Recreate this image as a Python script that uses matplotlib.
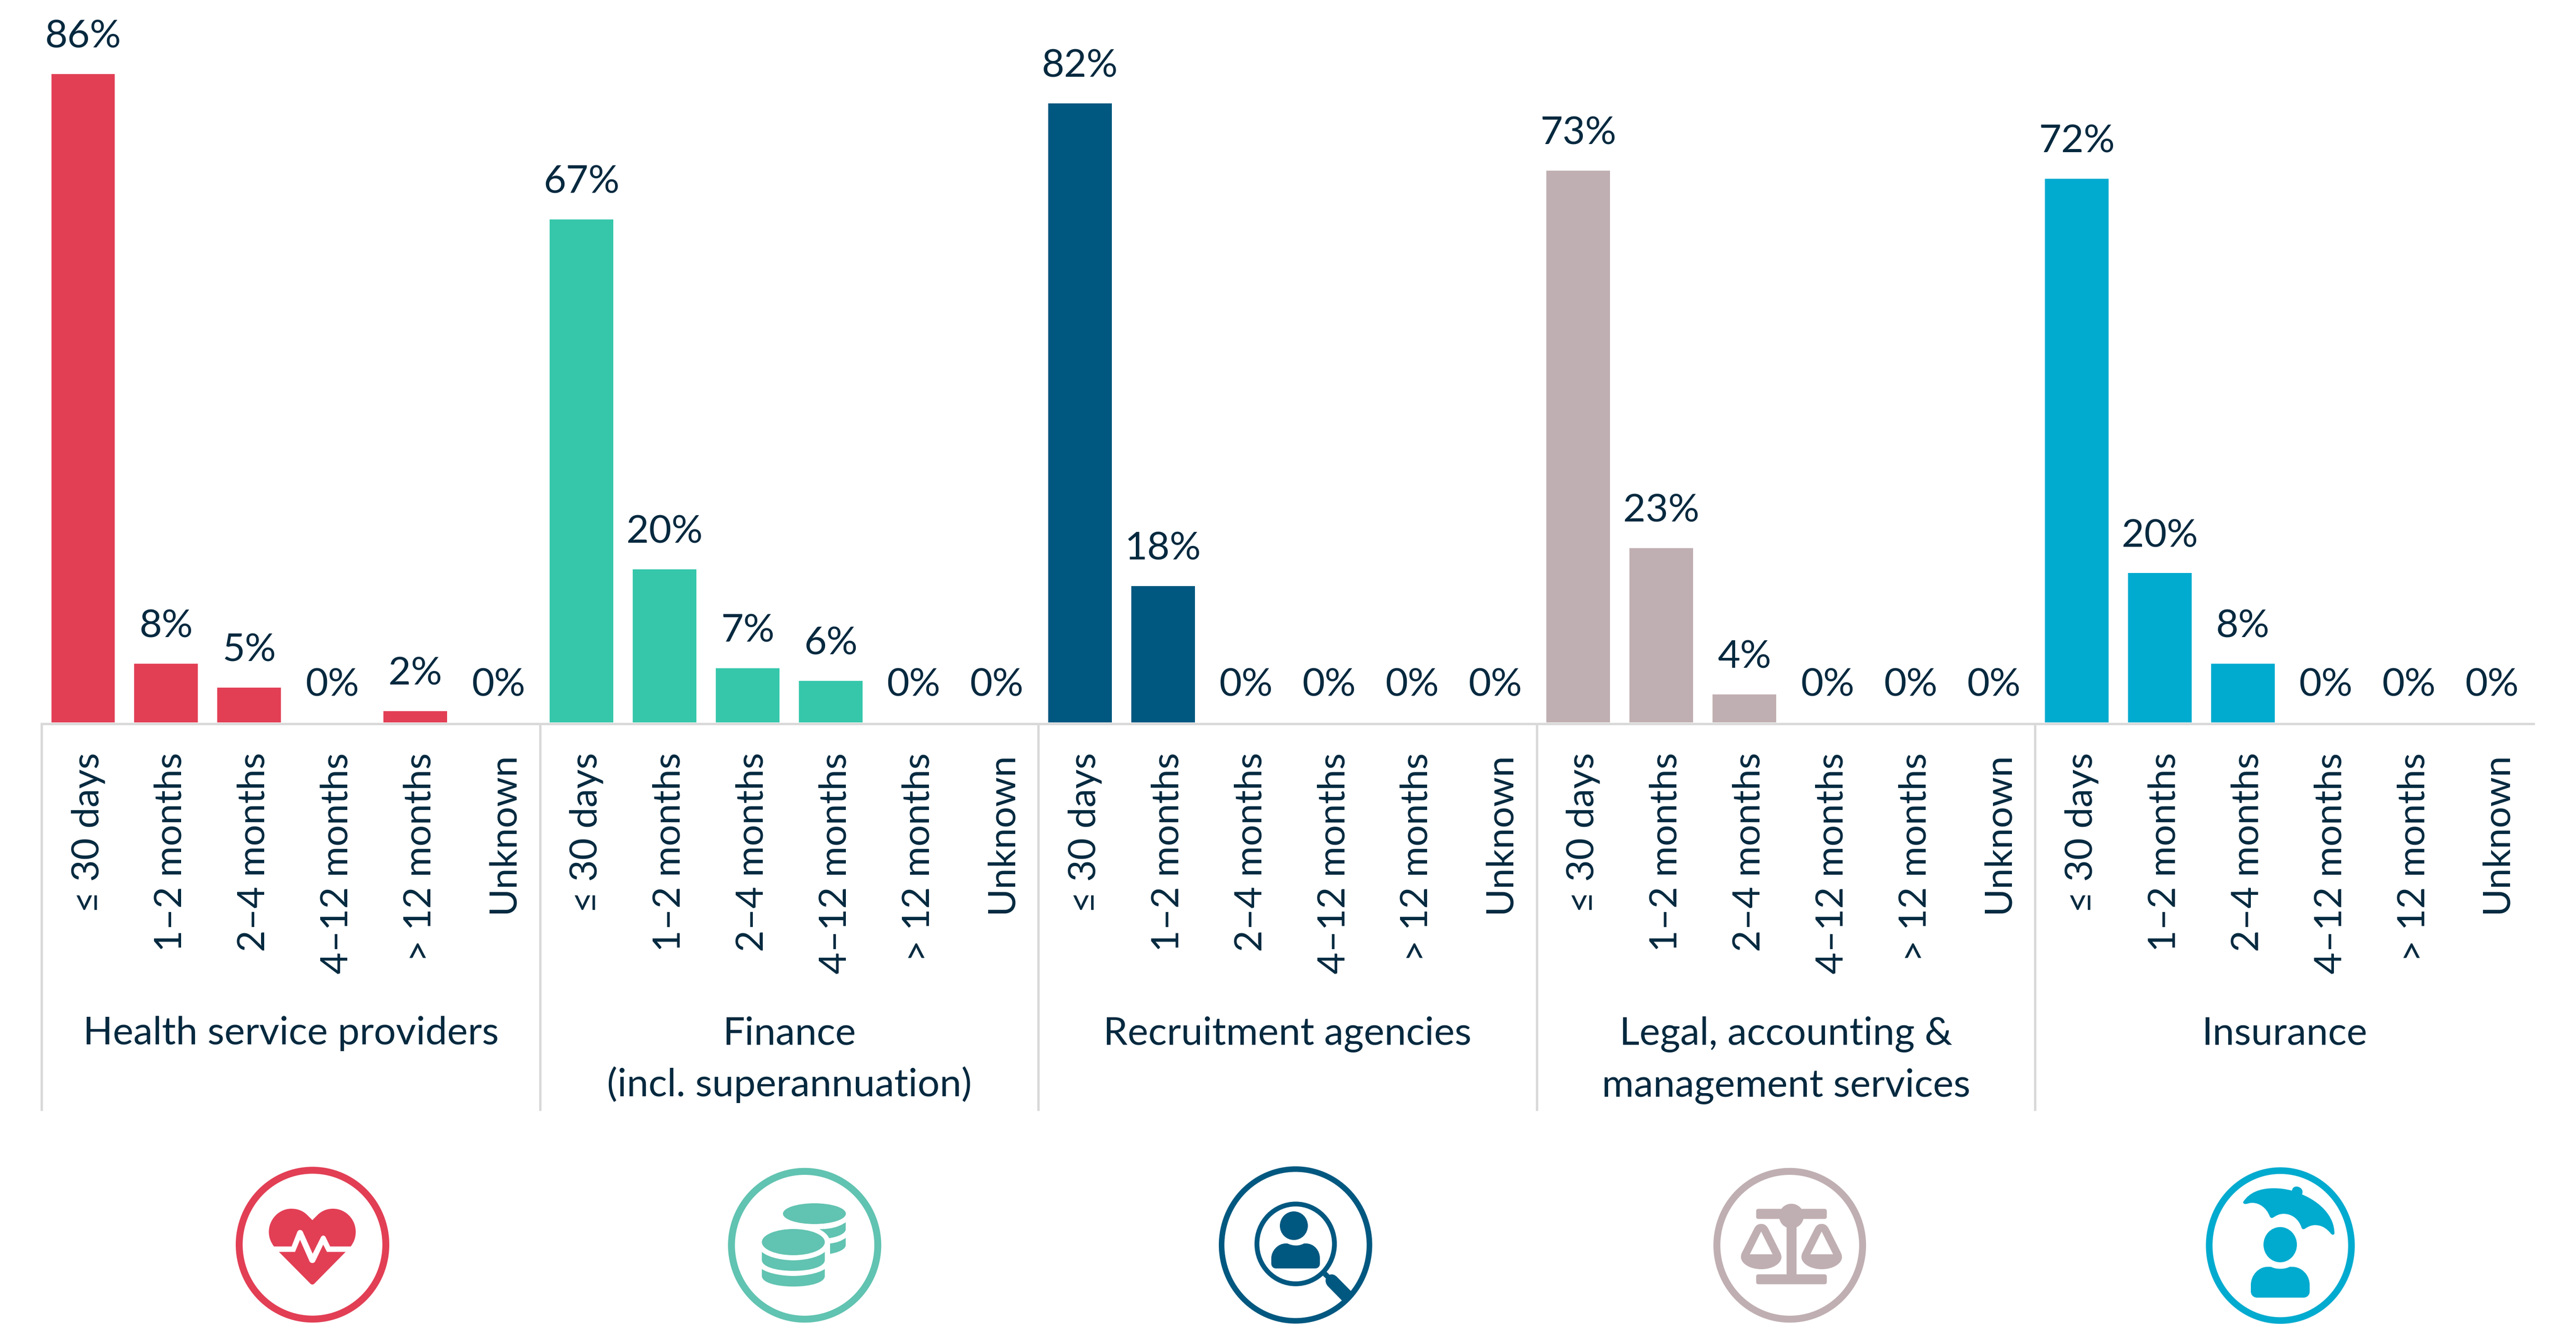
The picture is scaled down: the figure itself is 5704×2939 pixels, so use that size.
import matplotlib
matplotlib.use('Agg')
import matplotlib.pyplot as plt
from matplotlib.path import Path
from matplotlib.patches import PathPatch, Ellipse, FancyBboxPatch, Rectangle
from matplotlib.transforms import Affine2D, blended_transform_factory

plt.rcParams['font.family'] = ['Lato', 'Noto Sans', 'DejaVu Sans']

# the data ---------------------------------------------------
periods = ['≤ 30 days', '1–2 months', '2–4 months', '4–12 months', '> 12 months', 'Unknown']
sectors = ['Health service providers', 'Finance\n(incl. superannuation)', 'Recruitment agencies',
           'Legal, accounting &\nmanagement services', 'Insurance']
health = [86, 7.8, 4.6, 0, 1.5, 0]
finance = [66.7, 20.3, 7.2, 5.5, 0, 0]
recruitment = [82.1, 18.1, 0, 0, 0, 0]
legal = [73.2, 23.1, 3.7, 0, 0, 0]
insurance = [72.1, 19.8, 7.8, 0, 0, 0]
series = [health, finance, recruitment, legal, insurance]

bar_colors = ['#E23F55', '#36C7AB', '#005880', '#C0AFB2', '#00ABCF']
icon_colors = ['#E23F55', '#61C3B1', '#005880', '#C0AFB2', '#00ABCF']
text_color = '#03293F'
line_color = '#D9D9D9'

label_size = 62
tick_size = 60
slots = len(periods)

fig = plt.figure(figsize=(57.04, 29.39), dpi=100)

# overlay in image pixels, y going down (icons and sector names)
ov = fig.add_axes([0, 0, 1, 1])
ov.set_xlim(0, 5704)
ov.set_ylim(2939, 0)
ov.axis('off')

ax = fig.add_axes([92 / 5704, (2939 - 1600) / 2939, (5610 - 92) / 5704, 1600 / 2939])
ax.patch.set_alpha(0)
ax.set_xlim(0, slots * len(series))
ax.set_ylim(0, 1600 / 16.7)

ticks = []
tick_labels = []
for i, values in enumerate(series):
    x = [i * slots + j + 0.5 for j in range(slots)]
    ax.bar(x, values, width=0.766, color=bar_colors[i])
    for xi, v in zip(x, values):
        ax.annotate(f'{v:.0f}%', (xi, v), xytext=(0, 42), textcoords='offset points',
                    ha='center', va='baseline', fontsize=label_size, color=text_color)
    # rotated labels sit a little right of the bar centres (ticks have no length)
    ticks += [xi + 0.06 for xi in x]
    tick_labels += periods

ax.set_xticks(ticks, tick_labels)
ax.set_xticks([i * slots for i in range(len(series))], minor=True)
ax.tick_params(axis='x', which='major', length=0, pad=46, labelsize=tick_size,
               labelcolor=text_color, labelrotation=90)
ax.tick_params(axis='x', which='minor', length=617, width=3.8, color=line_color)
ax.set_yticks([])
for side in ['top', 'left', 'right']:
    ax.spines[side].set_visible(False)
ax.spines['bottom'].set_position(('outward', 2.2))
ax.spines['bottom'].set_linewidth(3.8)
ax.spines['bottom'].set_color(line_color)

# sector names under the tick labels
name_trans = blended_transform_factory(ax.transData, ov.transData)
for i, name in enumerate(sectors):
    for k, line in enumerate(name.split('\n')):
        ov.text(i * slots + slots / 2, 2313 + k * 115, line, transform=name_trans, ha='center',
                va='baseline', fontsize=label_size, color=text_color, clip_on=False)


# icons ------------------------------------------------------
def svg_path(d):
    tokens = d.split()
    verts = []
    codes = []
    n = 0
    while n < len(tokens):
        t = tokens[n]
        if t == 'Z':
            verts.append(verts[-1])
            codes.append(Path.CLOSEPOLY)
            n += 1
        else:
            count = {'M': 1, 'L': 1, 'C': 3}[t]
            code = {'M': Path.MOVETO, 'L': Path.LINETO, 'C': Path.CURVE4}[t]
            for c in range(count):
                verts.append((float(tokens[n + 1 + 2 * c]), float(tokens[n + 2 + 2 * c])))
                codes.append(code)
            n += 1 + 2 * count
    return Path(verts, codes)


def fill(d, color, tr):
    ov.add_patch(PathPatch(svg_path(d), facecolor=color, edgecolor='none', transform=tr))


def oval(cx, cy, rx, ry, color, tr):
    ov.add_patch(Ellipse((cx, cy), 2 * rx, 2 * ry, facecolor=color, edgecolor='none', transform=tr))


def ring(cx, cy, w, h, thick, color, tr):
    ov.add_patch(Ellipse((cx, cy), w - thick, h - thick, facecolor='none', edgecolor=color,
                         linewidth=thick / 3 * 0.72, transform=tr))


def bar_round(x0, y0, x1, y1, r, color, tr):
    ov.add_patch(FancyBboxPatch((x0 + r, y0 + r), x1 - x0 - 2 * r, y1 - y0 - 2 * r,
                                boxstyle=f'round,pad={r},rounding_size={r}', mutation_aspect=1,
                                facecolor=color, edgecolor='none', transform=tr))


def crop_at(x, y):
    # icon shapes were measured on 3x crops, this puts them back in image pixels
    return Affine2D().scale(1 / 3).translate(x, y) + ov.transData


# heart
c = icon_colors[0]
tr = crop_at(500, 2560)
ring(576, 590, 1020, 1035, 46, c, tr)
fill('M 320 602 C 300 575 286 545 286 505 C 286 420 355 351 435 351 C 480 351 515 367 540 392 '
     'L 575 427 L 610 392 C 635 367 670 351 712 351 C 795 351 863 420 863 505 C 863 545 850 575 830 602 '
     'L 693 602 L 663 540 C 655 526 640 526 632 540 L 577 650 L 512 505 C 505 488 482 488 475 505 L 437 602 Z',
     c, tr)
fill('M 353 638 L 460 638 L 493 558 L 556 700 C 563 716 587 716 594 700 L 647 590 L 672 638 L 796 638 '
     'L 592 845 C 582 858 568 858 558 845 Z', c, tr)

# coins
c = icon_colors[1]
tr = crop_at(1590, 2560)
ring(575, 594, 1018, 1028, 46, c, tr)
oval(640, 384, 209, 69, c, tr)
oval(500, 573, 209, 87, c, tr)
fill('M 291 638 C 340 680 440 694 500 694 C 560 694 660 680 709 638 L 709 692 '
     'C 709 735 620 764 500 764 C 380 764 291 735 291 692 Z', c, tr)
fill('M 291 752 C 340 785 440 798 500 798 C 560 798 660 785 709 752 L 709 798 '
     'C 709 840 620 868 500 868 C 380 868 291 840 291 798 Z', c, tr)
fill('M 672 487 C 740 487 800 475 848 441 L 848 487 C 848 515 800 537 738 547 C 725 520 700 500 672 487 Z', c, tr)
fill('M 744 582 C 790 577 820 565 848 545 L 848 592 C 848 620 800 642 744 651 Z', c, tr)

# magnifying glass
c = icon_colors[2]
tr = crop_at(2690, 2560)
ring(536, 592, 1019, 1045, 37, c, tr)
ring(537, 585, 547, 562, 32, c, tr)
oval(525, 464, 93, 95, c, tr)
fill('M 483 582 C 520 600 560 600 592 582 L 605 582 C 660 582 698 630 698 680 L 698 715 '
     'C 698 735 685 748 665 748 L 408 748 C 388 748 375 735 375 715 L 375 680 C 375 630 420 582 470 582 Z', c, tr)
fill('M 742 770 L 762 790 C 780 783 797 790 810 803 L 903 897 L 915 912 L 860 975 L 843 960 L 750 865 '
     'C 737 850 732 830 738 815 L 718 796 Z', c, tr)

# scales
c = icon_colors[3]
tr = crop_at(3790, 2560)
ring(519, 594, 1014, 1028, 46, c, tr)
bar_round(296, 352, 765, 419, 15, c, tr)
bar_round(296, 787, 765, 853, 15, c, tr)
oval(530, 400, 82, 82, c, tr)
ov.add_patch(Rectangle((498, 470), 66, 320, facecolor=c, edgecolor='none', transform=tr))
pan = ('M 330 452 C 300 452 290 470 283 483 L 203 640 C 195 655 195 665 195 672 '
       'C 195 716 255 753 330 753 C 405 753 464 716 464 672 C 464 665 462 655 455 640 '
       'L 376 483 C 368 468 355 452 330 452 Z M 329 503 L 405 654 L 254 654 Z')
fill(pan, c, tr)
fill(pan, c, Affine2D().translate(402, 0) + tr)

# umbrella
c = icon_colors[4]
tr = crop_at(4880, 2560)
ring(508, 596, 989, 1040, 44, c, tr)
fill('M 262 305 C 300 245 370 215 465 215 C 510 215 550 222 585 231 C 588 210 605 200 625 205 '
     'C 650 212 662 232 652 256 C 770 305 868 400 867 515 C 867 525 855 528 845 518 '
     'C 815 480 780 460 740 460 C 710 460 690 472 670 485 C 660 490 652 487 648 475 '
     'C 630 420 585 385 530 385 C 500 385 480 397 460 410 C 450 415 442 413 437 400 '
     'C 415 345 370 312 320 312 C 305 312 290 318 278 320 C 265 320 258 312 262 305 Z', c, tr)
oval(507, 590, 111, 117, c, tr)
fill('M 445 737 C 480 755 535 755 570 737 L 585 737 C 650 737 703 790 703 860 L 703 900 '
     'C 703 925 685 942 660 942 L 355 942 C 330 942 312 925 312 900 L 312 860 '
     'C 312 790 365 737 425 737 Z', c, tr)

fig.savefig('out.png', dpi=100)
